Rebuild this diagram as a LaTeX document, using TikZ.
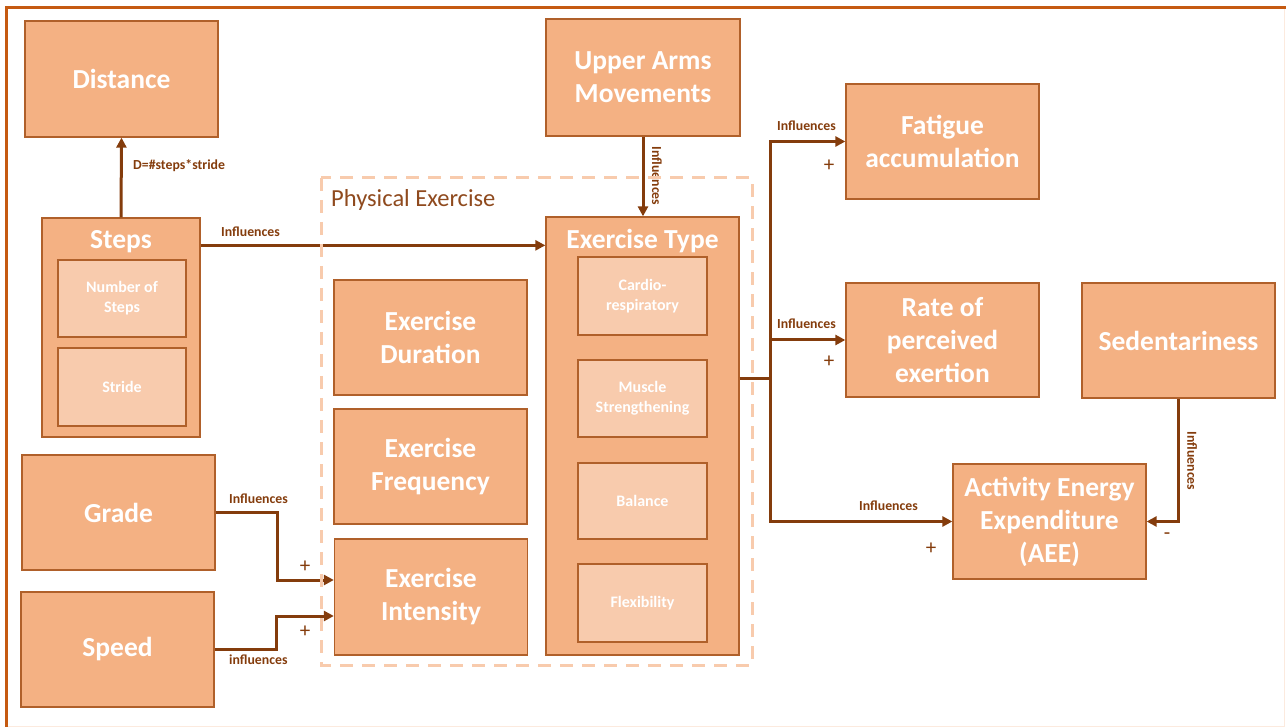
\documentclass[tikz,border=0pt]{standalone}
\usepackage{fontspec}
\setmainfont{Carlito}
\usetikzlibrary{arrows.meta,calc}
\definecolor{boxfill}{HTML}{F4B183}
\definecolor{boxedge}{HTML}{B0602A}
\definecolor{innerfill}{HTML}{F8CBAD}
\definecolor{arrowc}{HTML}{843C0C}
\definecolor{framec}{HTML}{C55A11}
\definecolor{dashc}{HTML}{F8CBAD}
\definecolor{pelabel}{HTML}{8F4A1E}
\tikzset{
  box/.style={draw=boxedge, line width=1.3pt, fill=boxfill, text=white, align=center,
    font=\fontsize{27.5}{33}\selectfont\bfseries, inner sep=0pt},
  innerbox/.style={draw=boxedge, line width=1.3pt, fill=innerfill, text=white, align=center,
    font=\fontsize{16}{20}\selectfont\bfseries, inner sep=0pt, minimum width=128pt},
  boxtitle/.style={text=white, font=\fontsize{27.5}{33}\selectfont\bfseries, inner sep=0pt},
  arr/.style={draw=arrowc, line width=3pt, -{Triangle[length=10pt,width=10pt]}},
  lbl/.style={text=arrowc, font=\fontsize{13.8}{16}\selectfont\bfseries, inner sep=0pt},
  sign/.style={text=arrowc, font=\fontsize{21}{23}\selectfont, inner sep=0pt},
}
\begin{document}
\begin{tikzpicture}[x=1pt,y=-1pt]
\useasboundingbox (0,0) rectangle (1286,727);
% outer frame
\draw[draw=innerfill!40, line width=1pt] (6,8) rectangle (1284,726);
\draw[draw=framec, line width=3pt] (6,727) -- (6,8) -- (1286,8);

% boxes
\node[box, minimum width=193pt, minimum height=116pt] (dist) at (121.5,79) {Distance};
\node[box, minimum width=158pt, minimum height=219pt] (steps) at (121,327.5) {};
\node[boxtitle] (stepsT) at (121,242) {Steps};
\node[innerbox, minimum height=77pt] (nsteps) at (122,298.5) {Number of\\Steps};
\node[innerbox, minimum height=78pt] (stride) at (122,387) {Stride};
\node[box, minimum width=193pt, minimum height=115pt] (grade) at (118.5,512.5) {Grade};
\node[box, minimum width=193pt, minimum height=115pt] (speed) at (117.5,649.5) {Speed};

\node[box, minimum width=193pt, minimum height=115pt] (dur) at (430.5,337.5) {Exercise\\Duration};
\node[box, minimum width=193pt, minimum height=115pt] (freq) at (430.5,466.5) {Exercise\\Frequency};
\node[box, minimum width=193pt, minimum height=116pt] (inten) at (431,597) {Exercise\\Intensity};

\node[box, minimum width=193pt, minimum height=438pt] (extype) at (642.5,436) {};
\node[boxtitle] (extypeT) at (642.5,241) {Exercise Type};
\node[innerbox, minimum width=129pt, minimum height=78pt] (cardio) at (642.5,296) {Cardio-\\respiratory};
\node[innerbox, minimum width=129pt, minimum height=77pt] (muscle) at (642.5,398.5) {Muscle\\Strengthening};
\node[innerbox, minimum width=129pt, minimum height=76pt] (balance) at (642.5,501) {Balance};
\node[innerbox, minimum width=129pt, minimum height=78pt] (flex) at (642.5,603) {Flexibility};

\node[box, minimum width=194pt, minimum height=117pt] (upper) at (643,77.5) {Upper Arms\\Movements};
\node[box, minimum width=193pt, minimum height=115pt] (fatigue) at (942.5,141.5) {Fatigue\\accumulation};
\node[box, minimum width=193pt, minimum height=114pt] (rate) at (942.5,340) {Rate of\\perceived\\exertion};
\node[box, minimum width=193pt, minimum height=115pt] (sed) at (1178.5,340.5) {Sedentariness};
\node[box, minimum width=193pt, minimum height=115pt] (aee) at (1049.5,521.5) {Activity Energy\\Expenditure\\(AEE)};

% connectors
\draw[arr] (steps.north) -- (dist.south);
\node[lbl, anchor=west] (lD) at (133,166) {D=\#steps*stride};

\coordinate (sOut) at ([yshift=-28pt]steps.north east);
\draw[arr] (sOut) -- (sOut -| extype.west);
\node[lbl, anchor=west] (lS) at (221,232) {Influences};

\draw[arr] (upper.south) -- (upper.south |- extype.north);
\node[lbl, rotate=-90] (lU) at (657,176) {Influences};

\coordinate (gIn) at ([yshift=17pt]inten.west);
\draw[arr] (grade.east) -- ++(62,0) |- (gIn);
\node[lbl, anchor=west] (lG) at (229,499) {Influences};
\node[sign] (pG) at (305,567) {+};

\coordinate (spIn) at ([yshift=-19pt]inten.west);
\draw[arr] (speed.east) -- ++(62,0) |- (spIn);
\node[lbl, anchor=west] (lSp) at (229,660) {influences};
\node[sign] (pSp) at (305,632) {+};

\coordinate (eOut) at ([yshift=57pt]extype.east);
\coordinate (bus) at ([xshift=31pt]eOut);
\draw[arr] (eOut) -- (bus) |- (fatigue.west);
\draw[arr] (eOut) -- (bus) |- (aee.west);
\draw[arr] (bus |- rate.west) -- (rate.west);
\node[lbl, anchor=west] (lF) at (777,126) {Influences};
\node[lbl, anchor=west] (lR) at (777,324) {Influences};
\node[lbl, anchor=west] (lA) at (859,506) {Influences};
\node[sign] (pF) at (829,166) {+};
\node[sign] (pR) at (829,362) {+};
\node[sign] (pA) at (931,549) {+};

\draw[arr] (sed.south) |- (aee.east);
\node[lbl, rotate=-90] (lSed) at (1192,461) {Influences};
\node[sign] (mS) at (1167,536) {-};

% physical exercise group
\draw[draw=dashc, line width=3pt, dash pattern=on 13pt off 9pt] (321,178) rectangle (752,665);
\node[text=pelabel, font=\fontsize{24.5}{28}\selectfont, anchor=west, inner sep=0pt] (pe) at (331,200) {Physical Exercise};
\end{tikzpicture}
\end{document}
